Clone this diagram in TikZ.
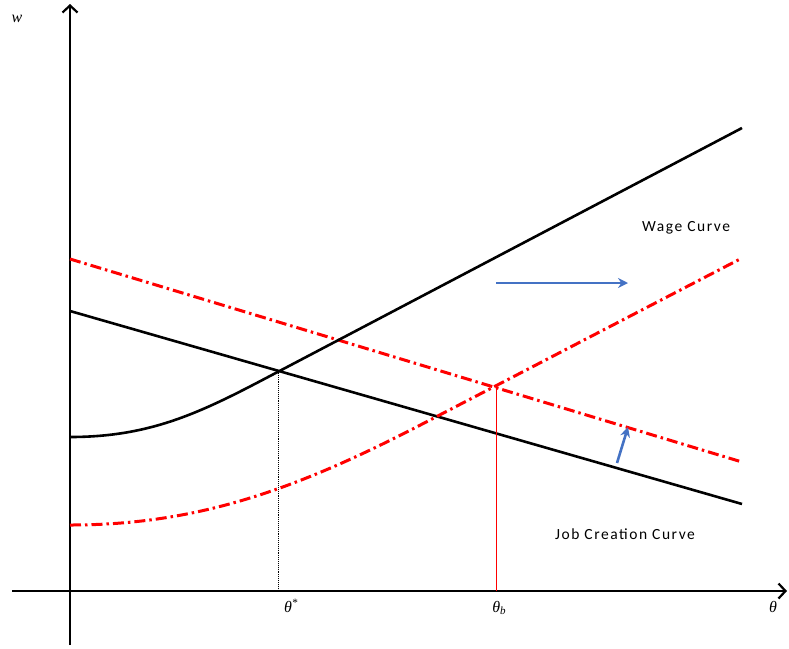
\documentclass[tikz,border=0pt]{standalone}
\usepackage{fontspec}
\newfontfamily\labelfont[LetterSpace=10]{Carlito}
\newfontfamily\varfont{Liberation Serif}
\usepackage{xcolor}
\definecolor{curvered}{RGB}{255,0,0}
\definecolor{shiftblue}{RGB}{68,114,196}
\usetikzlibrary{arrows.meta}
\newcommand{\lowidx}[1]{\raisebox{-0.35ex}{\fontsize{11}{12}\selectfont #1}}

\begin{document}
\begin{tikzpicture}[x=1pt, y=-1pt,
    axis/.style={line width=2.6pt, -{Straight Barb[length=7pt, width=15pt, line width=2.2pt]}},
    curve/.style={line width=2.6pt, black},
    shifted/.style={line width=3pt, curvered, dash pattern=on 11pt off 4pt on 2.5pt off 4pt},
    guide/.style={line width=0.9pt},
    shiftarrow/.style={line width=2.6pt, shiftblue, -{Stealth[length=10pt, width=10pt]}},
    curvelabel/.style={font=\labelfont\fontsize{15.5}{17}\selectfont},
    axislabel/.style={font=\varfont\itshape\fontsize{16}{18}\selectfont}]
  \useasboundingbox (0,0) rectangle (789,648);

  % Axes
  \coordinate (ybot) at (70,645);
  \coordinate (ytop) at (70,4);
  \coordinate (xleft) at (12,591);
  \coordinate (xright) at (787,591);
  \draw[axis] (ybot) -- (ytop);
  \draw[axis] (xleft) -- (xright);
  \node[axislabel] (wlab) at (17,19) {w};
  \node[axislabel] (thetalab) at (773,607) {θ};

  % Job creation curve and its shifted version
  \coordinate (jcstart) at (70,311);
  \coordinate (jcend) at (742,504);
  \coordinate (jcnewstart) at (70,259);
  \coordinate (jcnewend) at (742,462);
  \draw[curve] (jcstart) -- (jcend);
  \draw[shifted] (jcnewstart) -- (jcnewend);

  % Wage curve and its shifted version
  \coordinate (wcstart) at (70,437);
  \coordinate (wcjoin) at (270,376);
  \coordinate (wcend) at (742,128);
  \draw[curve] (wcstart) .. controls (150,437) and (200,413) .. (wcjoin) -- (wcend);
  \coordinate (wcnewstart) at (70,525);
  \coordinate (wcnewjoin) at (430,420);
  \coordinate (wcnewend) at (742,258);
  \draw[shifted] (wcnewstart) .. controls (200,525) and (300,488) .. (wcnewjoin) -- (wcnewend);

  % Equilibria
  \coordinate (eqold) at (278,371);
  \coordinate (eqnew) at (496,387);
  \coordinate (footold) at (278,591);
  \coordinate (footnew) at (496,591);
  \draw[guide, black, densely dotted] (eqold) -- (footold);
  \draw[guide, curvered] (eqnew) -- (footnew);
  \node[axislabel] (thetastar) at (291,606) {θ\textsuperscript{*}};
  \node[axislabel] (thetab) at (499,608) {θ\lowidx{b}};

  % Shift arrows
  \coordinate (wshiftfrom) at (496,283);
  \coordinate (wshiftto) at (628,283);
  \coordinate (jshiftfrom) at (617,463);
  \coordinate (jshiftto) at (628,427);
  \draw[shiftarrow] (wshiftfrom) -- (wshiftto);
  \draw[shiftarrow] (jshiftfrom) -- (jshiftto);

  % Curve labels
  \node[curvelabel] (wagelab) at (686,228) {Wage Curve};
  \node[curvelabel] (joblab) at (625,534) {Job Creation Curve};
\end{tikzpicture}
\end{document}
